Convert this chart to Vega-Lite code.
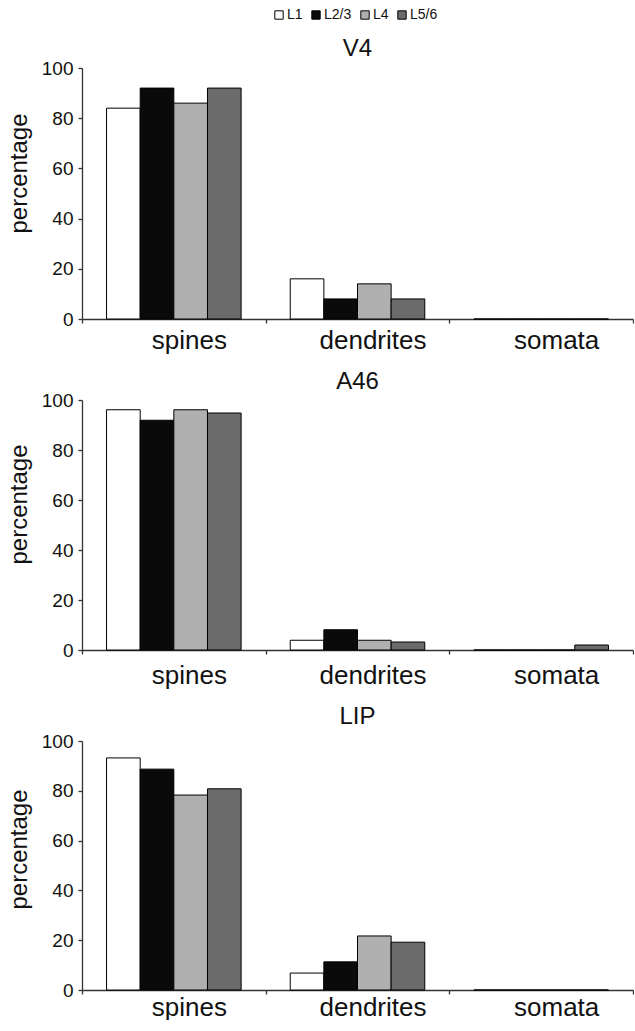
{
  "$schema": "https://vega.github.io/schema/vega-lite/v6.json",
  "padding": {"left": 7, "top": 8, "right": 0, "bottom": 0},
  "background": "white",
  "datasets": {
    "bars": [
      {"area": "V4", "category": "spines", "layer": "L1", "value": 84},
      {"area": "V4", "category": "spines", "layer": "L2/3", "value": 92},
      {"area": "V4", "category": "spines", "layer": "L4", "value": 86},
      {"area": "V4", "category": "spines", "layer": "L5/6", "value": 92},
      {"area": "V4", "category": "dendrites", "layer": "L1", "value": 16},
      {"area": "V4", "category": "dendrites", "layer": "L2/3", "value": 8},
      {"area": "V4", "category": "dendrites", "layer": "L4", "value": 14},
      {"area": "V4", "category": "dendrites", "layer": "L5/6", "value": 8},
      {"area": "V4", "category": "somata", "layer": "L1", "value": 0},
      {"area": "V4", "category": "somata", "layer": "L2/3", "value": 0},
      {"area": "V4", "category": "somata", "layer": "L4", "value": 0},
      {"area": "V4", "category": "somata", "layer": "L5/6", "value": 0},
      {"area": "A46", "category": "spines", "layer": "L1", "value": 96.1},
      {"area": "A46", "category": "spines", "layer": "L2/3", "value": 91.9},
      {"area": "A46", "category": "spines", "layer": "L4", "value": 96.1},
      {"area": "A46", "category": "spines", "layer": "L5/6", "value": 94.8},
      {"area": "A46", "category": "dendrites", "layer": "L1", "value": 3.9},
      {"area": "A46", "category": "dendrites", "layer": "L2/3", "value": 8.1},
      {"area": "A46", "category": "dendrites", "layer": "L4", "value": 3.9},
      {"area": "A46", "category": "dendrites", "layer": "L5/6", "value": 3.2},
      {"area": "A46", "category": "somata", "layer": "L1", "value": 0},
      {"area": "A46", "category": "somata", "layer": "L2/3", "value": 0},
      {"area": "A46", "category": "somata", "layer": "L4", "value": 0},
      {"area": "A46", "category": "somata", "layer": "L5/6", "value": 2},
      {"area": "LIP", "category": "spines", "layer": "L1", "value": 93.2},
      {"area": "LIP", "category": "spines", "layer": "L2/3", "value": 88.7},
      {"area": "LIP", "category": "spines", "layer": "L4", "value": 78.3},
      {"area": "LIP", "category": "spines", "layer": "L5/6", "value": 80.8},
      {"area": "LIP", "category": "dendrites", "layer": "L1", "value": 6.8},
      {"area": "LIP", "category": "dendrites", "layer": "L2/3", "value": 11.3},
      {"area": "LIP", "category": "dendrites", "layer": "L4", "value": 21.7},
      {"area": "LIP", "category": "dendrites", "layer": "L5/6", "value": 19.2},
      {"area": "LIP", "category": "somata", "layer": "L1", "value": 0},
      {"area": "LIP", "category": "somata", "layer": "L2/3", "value": 0},
      {"area": "LIP", "category": "somata", "layer": "L4", "value": 0},
      {"area": "LIP", "category": "somata", "layer": "L5/6", "value": 0}
    ]
  },
  "data": {"name": "bars"},
  "spacing": 17,
  "vconcat": [
    {
      "title": {"text": "V4", "offset": -2},
      "width": 551,
      "height": 251,
      "transform": [{"filter": "datum.area === 'V4'"}],
      "mark": {"type": "bar", "stroke": "#000", "strokeWidth": 1},
      "encoding": {
        "x": {"field": "category", "type": "nominal", "sort": ["spines", "dendrites", "somata"], "scale": {"paddingInner": 0, "paddingOuter": 0}, "axis": {"title": null, "labelPadding": 4, "labelOffset": 15}},
        "xOffset": {"field": "layer", "type": "nominal", "sort": ["L1", "L2/3", "L4", "L5/6"], "scale": {"paddingInner": 0, "paddingOuter": 0.73}},
        "y": {"field": "value", "type": "quantitative", "scale": {"domain": [0, 100]}, "axis": {"title": "percentage", "values": [0, 20, 40, 60, 80, 100], "titleY": 105}},
        "color": {"field": "layer", "type": "nominal", "sort": ["L1", "L2/3", "L4", "L5/6"], "scale": {"domain": ["L1", "L2/3", "L4", "L5/6"], "range": ["#ffffff", "#0a0a0a", "#b0b0b0", "#6b6b6b"]},
          "legend": {"title": null, "orient": "none", "direction": "horizontal", "legendX": 190, "legendY": -60}}
      }
    },
    {
      "title": {"text": "A46", "offset": -3},
      "width": 551,
      "height": 250,
      "transform": [{"filter": "datum.area === 'A46'"}],
      "mark": {"type": "bar", "stroke": "#000", "strokeWidth": 1},
      "encoding": {
        "x": {"field": "category", "type": "nominal", "sort": ["spines", "dendrites", "somata"], "scale": {"paddingInner": 0, "paddingOuter": 0}, "axis": {"title": null, "labelPadding": 8, "labelOffset": 15}},
        "xOffset": {"field": "layer", "type": "nominal", "sort": ["L1", "L2/3", "L4", "L5/6"], "scale": {"paddingInner": 0, "paddingOuter": 0.73}},
        "y": {"field": "value", "type": "quantitative", "scale": {"domain": [0, 100]}, "axis": {"title": "percentage", "values": [0, 20, 40, 60, 80, 100], "titleY": 104}},
        "color": {"field": "layer", "type": "nominal", "sort": ["L1", "L2/3", "L4", "L5/6"]}
      }
    },
    {
      "title": {"text": "LIP", "offset": 3},
      "width": 551,
      "height": 249,
      "transform": [{"filter": "datum.area === 'LIP'"}],
      "mark": {"type": "bar", "stroke": "#000", "strokeWidth": 1},
      "encoding": {
        "x": {"field": "category", "type": "nominal", "sort": ["spines", "dendrites", "somata"], "scale": {"paddingInner": 0, "paddingOuter": 0}, "axis": {"title": null, "labelPadding": 0, "labelOffset": 15}},
        "xOffset": {"field": "layer", "type": "nominal", "sort": ["L1", "L2/3", "L4", "L5/6"], "scale": {"paddingInner": 0, "paddingOuter": 0.73}},
        "y": {"field": "value", "type": "quantitative", "scale": {"domain": [0, 100]}, "axis": {"title": "percentage", "values": [0, 20, 40, 60, 80, 100], "titleY": 108}},
        "color": {"field": "layer", "type": "nominal", "sort": ["L1", "L2/3", "L4", "L5/6"]}
      }
    }
  ],
  "config": {
    "font": "Liberation Sans",
    "view": {"stroke": null},
    "title": {"font": "Liberation Sans", "fontSize": 24, "fontWeight": "normal", "color": "#111", "frame": "group", "baseline": "alphabetic", "anchor": "middle"},
    "axis": {"labelFont": "Liberation Sans", "titleFont": "Liberation Sans", "labelColor": "#111", "titleColor": "#111", "domainColor": "#333", "tickColor": "#333", "domainWidth": 1.3, "tickWidth": 1.3, "tickSize": 4, "grid": false},
    "axisX": {"labelFontSize": 26, "labelAngle": 0, "tickBand": "extent"},
    "axisY": {"labelFontSize": 19, "labelPadding": 5, "titleFontSize": 24, "titleFontWeight": "normal", "titlePadding": 10},
    "legend": {"labelFont": "Liberation Sans", "labelFontSize": 14, "labelColor": "#111", "symbolType": "square", "symbolSize": 70, "symbolStrokeColor": "#000", "symbolStrokeWidth": 1, "symbolOpacity": 1, "labelOffset": 1, "columnPadding": 6, "padding": 0}
  }
}
